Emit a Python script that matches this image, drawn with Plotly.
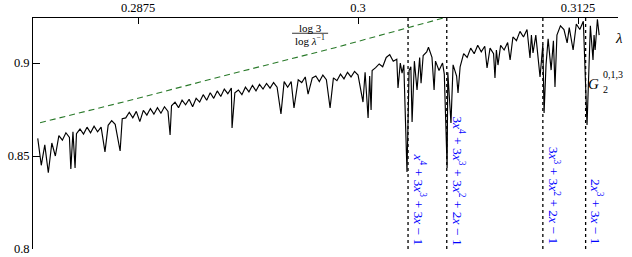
import plotly.graph_objects as go

# spectrum (lambda, value)
lam = [0.2818, 0.2820, 0.2822, 0.2824, 0.2826, 0.2828, 0.2830, 0.2832, 0.2834, 0.2836, 0.28368, 0.2838, 0.28392, 0.2840,
       0.2842, 0.2844, 0.2846, 0.2848, 0.2850, 0.2852, 0.2854, 0.28562, 0.2858, 0.2860, 0.2862, 0.28648, 0.2866,
       0.2868, 0.2870, 0.2872, 0.2874, 0.2876, 0.2878, 0.2880, 0.2882, 0.2884, 0.2886, 0.2888, 0.2890, 0.2892, 0.28932,
       0.2894, 0.2896, 0.2898, 0.2900, 0.2902, 0.2904, 0.2906, 0.2908, 0.2910, 0.2912, 0.2914,
       0.2916, 0.2918, 0.2920, 0.2922, 0.2924, 0.2926, 0.2928, 0.29284, 0.2930,
       0.2932, 0.2934, 0.2936, 0.2938, 0.2940, 0.2942, 0.2944, 0.2946, 0.2948, 0.2950, 0.2952, 0.2954, 0.29562, 0.2958,
       0.2960, 0.2962, 0.29636, 0.2966, 0.2968, 0.2970, 0.29716, 0.2974, 0.2976, 0.2978, 0.2980, 0.2982, 0.2983, 0.29841, 0.2986,
       0.2988, 0.2990, 0.2992, 0.2994, 0.2996, 0.2998, 0.3000, 0.30028, 0.3004, 0.30057, 0.30066, 0.30074, 0.3008,
       0.3010, 0.3012, 0.3014, 0.3016, 0.3018, 0.3020, 0.3022, 0.30227, 0.3024, 0.3025, 0.3026, 0.30278, 0.3029, 0.3030, 0.30307, 0.3032,
       0.30335, 0.3035, 0.30358, 0.3037, 0.3039, 0.3040, 0.3042, 0.30432, 0.3044, 0.3046, 0.3048, 0.3049, 0.30506, 0.3051, 0.30528, 0.3054, 0.3056, 0.30568, 0.3058, 0.3060,
       0.3062, 0.3064, 0.3066, 0.3068, 0.3070, 0.3072, 0.30733, 0.3075, 0.3077, 0.30778, 0.30786, 0.30795, 0.3081, 0.3083, 0.3085, 0.30864, 0.3088,
       0.3090, 0.3092, 0.3094, 0.3096, 0.30977, 0.30985, 0.30994, 0.3101, 0.31034, 0.3105, 0.31057, 0.31068, 0.3108, 0.31097, 0.3111, 0.31119, 0.3113, 0.3115,
       0.3117, 0.31188, 0.3120, 0.31222, 0.3124, 0.3126, 0.3128, 0.31301, 0.31313, 0.3132, 0.31335, 0.31341, 0.31347, 0.3136, 0.3137]
val = [0.8595, 0.8450, 0.8560, 0.8410, 0.8570, 0.8500, 0.8610, 0.8585, 0.8625, 0.8600, 0.8430, 0.8630, 0.8435, 0.8620,
       0.8645, 0.8618, 0.8655, 0.8625, 0.8660, 0.8630, 0.8655, 0.8522, 0.8665, 0.8690, 0.8670, 0.8527, 0.8700,
       0.8705, 0.8735, 0.8705, 0.8740, 0.8685, 0.8745, 0.8720, 0.8755, 0.8725, 0.8760, 0.8730, 0.8765, 0.8740, 0.8613,
       0.8770, 0.8790, 0.8760, 0.8800, 0.8775, 0.8805, 0.8765, 0.8810, 0.8790, 0.8830, 0.8800,
       0.8840, 0.8810, 0.8850, 0.8820, 0.8860, 0.8835, 0.8865, 0.8651, 0.8840,
       0.8855, 0.8830, 0.8870, 0.8845, 0.8880, 0.8850, 0.8885, 0.8860, 0.8890, 0.8865, 0.8895, 0.8870, 0.8726, 0.8900,
       0.8870, 0.8900, 0.8758, 0.8910, 0.8895, 0.8925, 0.8833, 0.8920, 0.8930, 0.8900, 0.8935, 0.8910, 0.8850, 0.8758, 0.8920,
       0.8905, 0.8940, 0.8915, 0.8950, 0.8925, 0.8955, 0.8935, 0.8790, 0.8950, 0.8704, 0.8930, 0.8747, 0.8960,
       0.8975, 0.8995, 0.8980, 0.9030, 0.9045, 0.9010, 0.9020, 0.8866, 0.9000, 0.8946, 0.8990, 0.8414, 0.8960, 0.8980, 0.8683, 0.9010,
       0.8855, 0.9030, 0.8892, 0.9040, 0.9060, 0.9085, 0.9030, 0.8855, 0.9010, 0.8960, 0.9000, 0.8940, 0.8436, 0.8950, 0.8677, 0.8990, 0.8930, 0.8839, 0.8980, 0.9050,
       0.9030, 0.9080, 0.9050, 0.9095, 0.9060, 0.9090, 0.8973, 0.9080, 0.9050, 0.8919, 0.9070, 0.8989, 0.9095, 0.9070, 0.9110, 0.9016, 0.9140,
       0.9120, 0.9170, 0.9140, 0.9180, 0.9027, 0.9150, 0.9054, 0.9150, 0.8925, 0.9100, 0.8731, 0.8990, 0.9130, 0.8962, 0.9120, 0.8871, 0.9150, 0.9200,
       0.9180, 0.9108, 0.9190, 0.9070, 0.9210, 0.9180, 0.9225, 0.8667, 0.8978, 0.9200, 0.9016, 0.9150, 0.9070, 0.9235, 0.9150]

# bound log3/log(1/lambda)
bound_lam = [0.28193, 0.28705, 0.29273, 0.29869, 0.30506]
bound_val = [0.8679, 0.87995, 0.89398, 0.90823, 0.92473]

# polynomial roots (dotted markers)
root_lam = [0.30284, 0.30504, 0.31050, 0.31293]
root_labels = [
    "<i>x</i><sup>4</sup> + 3<i>x</i><sup>3</sup> + 3<i>x</i> − 1",
    "3<i>x</i><sup>4</sup> + 3<i>x</i><sup>3</sup> + 3<i>x</i><sup>2</sup> + 2<i>x</i> − 1",
    "3<i>x</i><sup>3</sup> + 3<i>x</i><sup>2</sup> + 2<i>x</i> − 1",
    "2<i>x</i><sup>3</sup> + 3<i>x</i> − 1",
]

x_ticks = [0.2875, 0.3, 0.3125]
x_ticktext = ["0.2875", "0.3", "0.3125"]
y_ticks = [0.8, 0.85, 0.9]
y_ticktext = ["0.8", "0.85", "0.9"]

X_RANGE = [0.28153, 0.31477]
Y_RANGE = [0.8, 0.9242]
FONT = "Liberation Serif, DejaVu Serif, serif"

fig = go.Figure()
fig.add_trace(go.Scatter(x=bound_lam, y=bound_val, mode="lines",
                         line=dict(color="#2a7a2a", width=1.1, dash="6px,4px"),
                         hoverinfo="skip", showlegend=False))
fig.add_trace(go.Scatter(x=lam, y=val, mode="lines",
                         line=dict(color="black", width=1.15),
                         showlegend=False))

for r, t in zip(root_lam, root_labels):
    fig.add_shape(type="line", x0=r, x1=r, y0=Y_RANGE[0], y1=Y_RANGE[1], xref="x", yref="y",
                  line=dict(color="black", width=1.3, dash="dot"), layer="above")
    fig.add_annotation(x=r, y=Y_RANGE[0], xref="x", yref="y", text=t, textangle=90,
                       xanchor="left", yanchor="bottom", xshift=1, yshift=2, showarrow=False,
                       font=dict(family=FONT, size=13.5, color="blue"))

# fraction label
fig.add_annotation(x=0.29727, y=0.9190, xref="x", yref="y", text="log 3", showarrow=False,
                   font=dict(family=FONT, size=11, color="black"))
fig.add_shape(type="line", x0=0.29625, x1=0.29830, y0=0.9160, y1=0.9160, xref="x", yref="y",
              line=dict(color="black", width=0.8))
fig.add_annotation(x=0.29727, y=0.9124, xref="x", yref="y", text="log <i>λ</i><sup>−1</sup>",
                   showarrow=False, font=dict(family=FONT, size=11, color="black"))

# G label
fig.add_annotation(x=0.31335, y=0.8887, xref="x", yref="y", text="<i>G</i>", showarrow=False,
                   font=dict(family=FONT, size=15, color="black"))
fig.add_annotation(x=0.31378, y=0.8856, xref="x", yref="y", text="2", showarrow=False,
                   xanchor="left", font=dict(family=FONT, size=10, color="black"))
fig.add_annotation(x=0.31380, y=0.8940, xref="x", yref="y", text="0,1,3", showarrow=False,
                   xanchor="left", font=dict(family=FONT, size=10, color="black"))

fig.add_annotation(x=1.012, y=0.955, xref="paper", yref="paper", text="<i>λ</i>", showarrow=False,
                   font=dict(family=FONT, size=15, color="black"))

fig.update_layout(
    width=632, height=257,
    margin=dict(l=33, r=14, t=18, b=8, autoexpand=False),
    paper_bgcolor="white", plot_bgcolor="white",
    font=dict(family=FONT, size=12.5, color="black"),
    showlegend=False,
    xaxis=dict(range=X_RANGE, side="top", tickvals=x_ticks, ticktext=x_ticktext, automargin=False,
               ticks="inside", ticklen=6, tickcolor="black", showline=True, linecolor="black",
               linewidth=1, showgrid=False, zeroline=False, tickfont=dict(family=FONT, size=12.5)),
    yaxis=dict(range=Y_RANGE, tickvals=y_ticks, ticktext=y_ticktext, automargin=False,
               ticks="inside", ticklen=7, tickcolor="black", showline=True, linecolor="black",
               linewidth=1, showgrid=False, zeroline=False, tickfont=dict(family=FONT, size=12.5)),
)

fig.write_html("out.html", config={"displayModeBar": False},
               post_script="document.body.style.margin='0';document.body.style.overflow='hidden';")
